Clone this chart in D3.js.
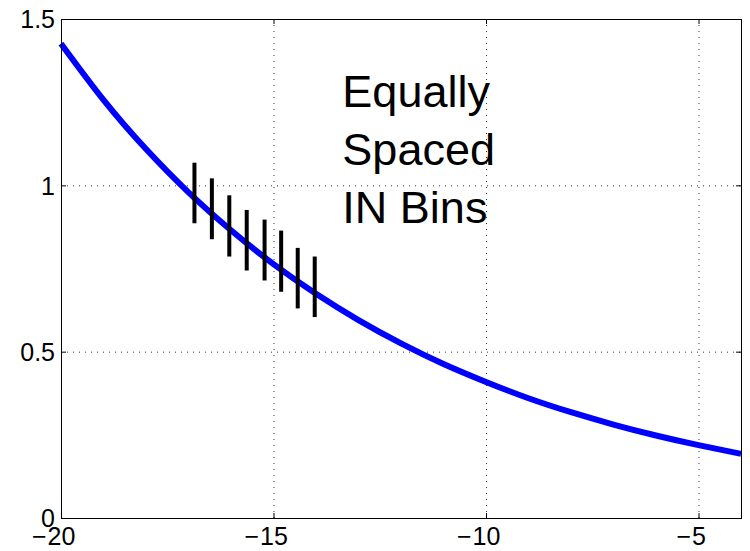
<!DOCTYPE html>
<html>
<head>
<meta charset="utf-8">
<script src="https://cdn.jsdelivr.net/npm/d3@7"></script>
<style>
	body { margin: 0; background: #fff; }
	svg { display: block; font-family: "Liberation Sans", Arial, Helvetica, sans-serif; }
</style>
</head>
<body>
<div id="chart-area"></div>
<script>
// Curve samples
var curveX = [-20, -19, -18, -17, -16, -15, -14, -13, -12, -11, -10, -9, -8, -7, -6, -5, -4];
var curveY = [1.426, 1.257, 1.109, 0.979, 0.865, 0.763, 0.674, 0.595, 0.525, 0.463, 0.409, 0.360, 0.318, 0.281, 0.248, 0.219, 0.193];

// Vertical bin markers: x position, bottom and top value
var binX = [-16.86, -16.45, -16.04, -15.63, -15.21, -14.82, -14.43, -14.03];
var binLow = [0.886, 0.838, 0.786, 0.744, 0.714, 0.680, 0.630, 0.604];
var binHigh = [1.068, 1.021, 0.970, 0.926, 0.897, 0.864, 0.812, 0.786];

// Ticks
var xTicks = [-20, -15, -10, -5];
var yTicks = [0, 0.5, 1, 1.5];
var yTickLabels = ["0", "0.5", "1", "1.5"];

// Annotation
var noteLines = ["Equally", "Spaced", "IN Bins"];

var margin = { top: 19, right: 9, bottom: 33, left: 61 };
var width = 750 - margin.left - margin.right,
	height = 551 - margin.top - margin.bottom;

var x = d3.scaleLinear().domain([-20, -4]).range([0, width]);
var y = d3.scaleLinear().domain([0, 1.5]).range([height, 0]);

var svg = d3.select("#chart-area")
	.append("svg")
		.attr("width", 750)
		.attr("height", 551);

var g = svg.append("g")
	.attr("transform", `translate(${margin.left},${margin.top})`);

// Dotted grid (interior ticks only)
g.selectAll(".vgrid")
	.data(xTicks.filter((d) => d > -20))
	.enter()
	.append("line")
		.attr("x1", (d) => x(d) + 0.5)
		.attr("x2", (d) => x(d) + 0.5)
		.attr("y1", 0)
		.attr("y2", height)
		.attr("stroke", "#333")
		.attr("stroke-width", 1)
		.attr("stroke-dasharray", "1,5");

g.selectAll(".hgrid")
	.data(yTicks.filter((d) => d > 0 && d < 1.5))
	.enter()
	.append("line")
		.attr("x1", 0)
		.attr("x2", width)
		.attr("y1", (d) => y(d) + 0.5)
		.attr("y2", (d) => y(d) + 0.5)
		.attr("stroke", "#333")
		.attr("stroke-width", 1)
		.attr("stroke-dasharray", "1,5");

// Blue curve
var pts = curveX.map((d, i) => [d, curveY[i]]);
var line = d3.line()
	.x((d) => x(d[0]))
	.y((d) => y(d[1]))
	.curve(d3.curveNatural);

g.append("path")
	.datum(pts)
	.attr("d", line)
	.attr("fill", "none")
	.attr("stroke", "#0000ff")
	.attr("stroke-width", 6);

// Black bin bars
g.selectAll(".bin")
	.data(binX)
	.enter()
	.append("line")
		.attr("x1", (d) => x(d))
		.attr("x2", (d) => x(d))
		.attr("y1", (d, i) => y(binLow[i]))
		.attr("y2", (d, i) => y(binHigh[i]))
		.attr("stroke", "#000")
		.attr("stroke-width", 4);

// Axes with inward ticks on all four sides
var xAxisCall = d3.axisBottom(x).tickValues(xTicks).tickSizeInner(-5).tickSizeOuter(0);
var yAxisCall = d3.axisLeft(y).tickValues(yTicks).tickSizeInner(-5).tickSizeOuter(0)
	.tickFormat((d, i) => yTickLabels[i]);

var xg = g.append("g")
	.attr("transform", `translate(0,${height})`)
	.call(xAxisCall);

var yg = g.append("g").call(yAxisCall);

g.append("g")
	.call(d3.axisTop(x).tickValues(xTicks).tickSizeInner(-5).tickSizeOuter(0).tickFormat(""));
g.append("g")
	.attr("transform", `translate(${width},0)`)
	.call(d3.axisRight(y).tickValues(yTicks).tickSizeInner(-5).tickSizeOuter(0).tickFormat(""));

g.selectAll(".domain").remove();
g.selectAll(".tick line").attr("stroke", "#000");

// Y labels
yg.selectAll(".tick text")
	.attr("x", -6)
	.attr("dy", "0.35em")
	.attr("font-size", 25)
	.attr("fill", "#000")
	.attr("font-family", null);

// X labels: digits centred on the tick, minus sign sticking out left
xg.selectAll(".tick text")
	.attr("y", 27)
	.attr("dy", 0)
	.attr("font-size", 25)
	.attr("fill", "#000")
	.attr("font-family", null)
	.text((d) => Math.abs(d))
	.each(function(d) {
		if (d < 0) {
			var w = this.getComputedTextLength();
			d3.select(this.parentNode).append("text")
				.attr("x", -w / 2 - 1)
				.attr("y", 27)
				.attr("text-anchor", "end")
				.attr("font-size", 25)
				.attr("fill", "#000")
				.text("\u2212");
		}
	});

// Frame
g.append("rect")
	.attr("x", 0.5)
	.attr("y", 0.5)
	.attr("width", width)
	.attr("height", height)
	.attr("fill", "none")
	.attr("stroke", "#000")
	.attr("stroke-width", 1);

// Annotation text
g.selectAll(".note")
	.data(noteLines)
	.enter()
	.append("text")
		.attr("x", x(-13.38))
		.attr("y", (d, i) => y(1.234) + i * 58)
		.attr("font-size", 45)
		.attr("fill", "#000")
		.text((d) => d);
</script>
</body>
</html>
